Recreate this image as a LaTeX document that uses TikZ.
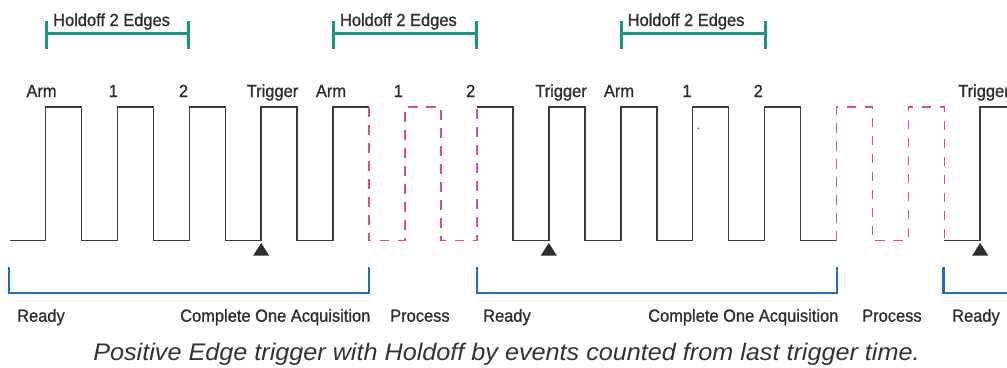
\documentclass[tikz,border=0pt]{standalone}
\usepackage{fontspec}
\setmainfont{Liberation Sans}
\newfontfamily\lblfont[FakeStretch=0.94,FakeBold=1.1]{Liberation Sans}
\newfontfamily\capfont[FakeStretch=1.05]{Liberation Sans}
\definecolor{wave}{HTML}{3A3A3A}
\definecolor{pinkd}{HTML}{D9507E}
\definecolor{tealb}{HTML}{16987F}
\definecolor{blueb}{HTML}{1E6EBE}
\definecolor{txt}{HTML}{2E2E2E}
\definecolor{captxt}{HTML}{333333}
\tikzset{
  solidwave/.style={draw=wave, line width=1.6pt, line join=miter},
  dashwave/.style={draw=pinkd, line width=1.5pt, dash pattern=on 9.5pt off 8.5pt},
  holdbr/.style={draw=tealb, line width=2.6pt},
  holdtick/.style={draw=tealb, line width=3pt},
  acqbr/.style={draw=blueb, line width=2.6pt},
  toplbl/.style={inner sep=0pt, anchor=base, text=txt, font=\lblfont\fontsize{17.5}{20}\selectfont},
  botlbl/.style={inner sep=0pt, anchor=base west, text=txt, font=\lblfont\fontsize{17.5}{20}\selectfont},
  holdlbl/.style={inner sep=0pt, anchor=base west, text=txt, font=\lblfont\fontsize{17.5}{20}\selectfont},
  trig/.style={fill=wave!80!black, draw=none},
  caplbl/.style={inner sep=0pt, anchor=base, text=captxt, font=\capfont\itshape\fontsize{24}{28}\selectfont}
}
\begin{document}
\begin{tikzpicture}[x=1pt,y=-1pt]
\useasboundingbox (0,0) rectangle (1007,367);
% levels: low 240.5, high 107
\path[solidwave] (10,240.5) -- (45.5,240.5) -- (45.5,107) -- (81.5,107) -- (81.5,240.5)
  -- (117.4,240.5) -- (117.4,107) -- (153.4,107) -- (153.4,240.5)
  -- (189.3,240.5) -- (189.3,107) -- (225.3,107) -- (225.3,240.5)
  -- (261.2,240.5) -- (261.2,107) -- (297.2,107) -- (297.2,240.5)
  -- (333.1,240.5) -- (333.1,107) -- (369.1,107);
\path[dashwave] (369.1,107) -- (369.1,240.5) -- (405,240.5) -- (405,107) -- (441,107)
  -- (441,240.5) -- (476.9,240.5) -- (476.9,107);
\path[solidwave] (476.9,107) -- (512.9,107) -- (512.9,240.5)
  -- (548.8,240.5) -- (548.8,107) -- (584.8,107) -- (584.8,240.5)
  -- (620.7,240.5) -- (620.7,107) -- (656.7,107) -- (656.7,240.5)
  -- (692.6,240.5) -- (692.6,107) -- (728.6,107) -- (728.6,240.5)
  -- (764.5,240.5) -- (764.5,107) -- (800.5,107) -- (800.5,240.5)
  -- (836.4,240.5);
\path[dashwave] (836.4,240.5) -- (836.4,107) -- (872.4,107) -- (872.4,240.5)
  -- (908.3,240.5) -- (908.3,107) -- (944.3,107) -- (944.3,240.5);
\path[solidwave] (944.3,240.5) -- (980.2,240.5) -- (980.2,107) -- (1010,107);
% trigger markers
\foreach \x/\n in {261.2/t1, 548.8/t2, 980.2/t3}{
  \path[trig] (\x,243) -- (\x+8,255.5) -- (\x-8,255.5) -- cycle;
}
% stray dot
\fill[wave] (698.3,128.3) circle (0.8);
% pulse labels
\node[toplbl] (a1) at (41.5,97) {Arm};
\node[toplbl] (n11) at (113.3,97) {1};
\node[toplbl] (n12) at (183.5,97) {2};
\node[toplbl] (tr1) at (272.5,97) {Trigger};
\node[toplbl] (a2) at (331,97) {Arm};
\node[toplbl] (n21) at (398.3,97) {1};
\node[toplbl] (n22) at (470.7,97) {2};
\node[toplbl] (tr2) at (561,97) {Trigger};
\node[toplbl] (a3) at (619,97) {Arm};
\node[toplbl] (n31) at (687,97) {1};
\node[toplbl] (n32) at (758.3,97) {2};
\node[toplbl, anchor=base west] (tr3) at (958,97) {Trigger};
% holdoff brackets
\foreach \l/\r/\n in {46.5/188/h1, 333.3/476.7/h2, 621/765/h3}{
  \path[holdbr] (\l,33.3) -- (\r,33.3);
  \path[holdtick] (\l,20.7) -- (\l,48.7);
  \path[holdtick] (\r,20.7) -- (\r,48.7);
  \node[holdlbl] (\n) at (\l+6.5,26) {Holdoff 2 Edges};
}
% acquisition brackets
\path[acqbr] (9,266.7) -- (9,293) -- (369,293) -- (369,266.7);
\path[acqbr] (477,266.7) -- (477,293) -- (837,293) -- (837,266.7);
\path[acqbr] (943.3,266.7) -- (943.3,293) -- (1010,293);
% bottom labels
\node[botlbl] (r1) at (17,321.7) {Ready};
\node[botlbl] (c1) at (180,321.7) {Complete One Acquisition};
\node[botlbl] (p1) at (390,321.7) {Process};
\node[botlbl] (r2) at (483,321.7) {Ready};
\node[botlbl] (c2) at (648,321.7) {Complete One Acquisition};
\node[botlbl] (p2) at (862,321.7) {Process};
\node[botlbl] (r3) at (952,321.7) {Ready};
% caption
\node[caplbl] (cap) at (506.5,360) {Positive Edge trigger with Holdoff by events counted from last trigger time.};
\end{tikzpicture}
\end{document}
